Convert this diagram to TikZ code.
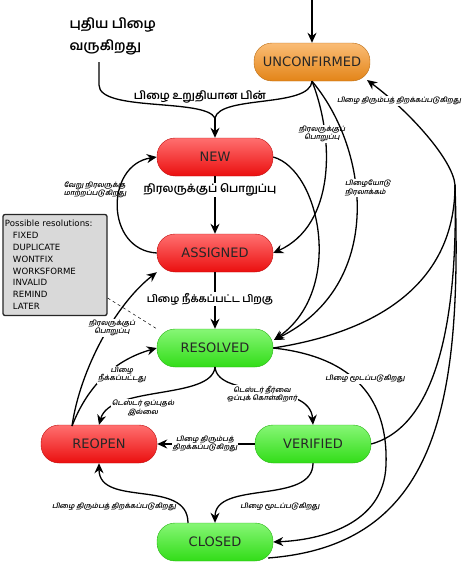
\documentclass[tikz,border=0pt]{standalone}
\usepackage{fontspec}
\setmainfont{DejaVu Sans}
\newfontfamily\tamil[Script=Tamil]{Hind Madurai}
\newfontfamily\tamilsl[Script=Tamil,FakeSlant=0.2]{Hind Madurai}
\usetikzlibrary{arrows.meta}
\definecolor{orng}{HTML}{F7901A}
\definecolor{rd}{HTML}{FF1010}
\definecolor{grn}{HTML}{36F01A}
\begin{document}
\begin{tikzpicture}[x=1pt,y=-1pt,
  state/.style={rounded corners=18pt, minimum width=116pt, minimum height=38pt,
    draw=#1!75!black, line width=0.4pt, top color=#1!60!white, middle color=#1,
    bottom color=#1!92!black, font=\fontsize{13}{15}\selectfont, text=black!85, inner sep=0pt},
  conn/.style={line width=1.3pt, draw=black},
  arr/.style={conn, -{Stealth[length=10pt,width=9pt]}},
  biglab/.style={font=\tamil\bfseries\fontsize{11}{13}\selectfont, inner sep=1pt},
  smalllab/.style={font=\tamilsl\bfseries\fontsize{6.9}{8.5}\selectfont, align=center, inner sep=1pt},
  resbox/.style={draw=black!85, line width=1.3pt, fill=black!15, rounded corners=2pt,
    align=left, font=\fontsize{8.6}{11.8}\selectfont, inner sep=2pt, text width=100pt, minimum height=101pt}
]
\useasboundingbox (0,0) rectangle (465,562);

% states
\node[state=orng] (unc) at (312,62) {UNCONFIRMED};
\node[state=rd] (new) at (215,157) {NEW};
\node[state=rd] (asg) at (215,253) {ASSIGNED};
\node[state=grn] (res) at (215,348) {RESOLVED};
\node[state=rd] (reo) at (99,444) {REOPEN};
\node[state=grn] (ver) at (313,444) {VERIFIED};
\node[state=grn] (clo) at (215,542) {CLOSED};

% resolutions box
\node[resbox] (rbox) at (55,265) {Possible resolutions:\\
\hspace*{8pt}FIXED\\ \hspace*{8pt}DUPLICATE\\ \hspace*{8pt}WONTFIX\\ \hspace*{8pt}WORKSFORME\\
\hspace*{8pt}INVALID\\ \hspace*{8pt}REMIND\\ \hspace*{8pt}LATER};
\draw[dashed, line width=0.5pt] (rbox.east |- 0,298) -- (res.north west);

% coordinates
\coordinate (top) at (312,0);
\coordinate (nbs) at (99,62);
\coordinate (nm) at (215,118);
\coordinate (rin) at (274,340);
\coordinate (ro) at (72,426);
\coordinate (rb) at (215,367);
\coordinate (cl) at (188,523);
\coordinate (cbr) at (268,558);
\coordinate (mg) at (455,185);
\coordinate (uin) at (367,80);

% top
\node[font=\tamil\bfseries\fontsize{13.5}{22}\selectfont, align=left, anchor=west] (nb) at (66,36) {புதிய பிழை\\வருகிறது};
\draw[arr] (top) -- (unc.north);

\draw[conn] (nbs) -- (99,85) .. controls (99,112) and (205,98) .. (nm);
\draw[conn] (unc.south) .. controls (310,108) and (220,95) .. (nm);
\draw[arr] (nm) -- (new.north);
\node[biglab] (l1) at (200,97) {பிழை உறுதியான பின்};

% NEW -> ASSIGNED
\draw[arr] (new.south) -- (asg.north);
\node[biglab, fill=white] (l2) at (210,190) {நிரலருக்குப் பொறுப்பு};

% ASSIGNED -> NEW
\draw[arr] (asg.west) .. controls (105,250) and (105,165) .. (new.west);
\node[smalllab, align=left] (l3) at (95,190) {வேறு நிரலருக்கு\\மாற்றப்படுகிறது};

% ASSIGNED -> RESOLVED
\draw[arr] (asg.south) -- (res.north);
\node[biglab, fill=white, font=\tamil\bfseries\fontsize{10}{12}\selectfont] (l4) at (210,299) {பிழை நீக்கப்பட்ட பிறகு};

% UNCONFIRMED -> ASSIGNED / RESOLVED, NEW -> RESOLVED
\draw[arr] (unc.south) .. controls (335,140) and (335,225) .. (asg.east);
\node[smalllab, fill=white] (l5) at (322,134) {நிரலருக்குப்\\பொறுப்பு};
\draw[arr] (unc.south) .. controls (370,150) and (385,285) .. (rin);
\node[smalllab, fill=white, align=left] (l6) at (368,188) {பிழையோடு\\நிரலாக்கம்};
\draw[arr] (new.east) .. controls (320,170) and (345,290) .. (rin);

% REOPEN -> ASSIGNED / RESOLVED
\draw[arr] (ro) .. controls (80,370) and (115,305) .. (asg.south west);
\node[smalllab, fill=white] (l7) at (112,328) {நிரலருக்குப்\\பொறுப்பு};
\draw[arr] (ro) .. controls (88,385) and (115,360) .. (res.west);
\node[smalllab, fill=white] (l8) at (122,375) {பிழை\\நீக்கப்பட்டது};

% RESOLVED -> REOPEN / VERIFIED
\draw[arr] (rb) .. controls (212,400) and (110,385) .. (reo.north);
\node[smalllab, fill=white] (l9) at (143,408) {டெஸ்டர் ஒப்புதல்\\இல்லை};
\draw[arr] (rb) .. controls (218,400) and (310,380) .. (ver.north);
\node[smalllab, fill=white] (l10) at (262,394) {டெஸ்டர் தீர்வை\\ஒப்புக் கொள்கிறார்};

% VERIFIED -> REOPEN
\draw[arr] (ver.west) -- (reo.east);
\node[smalllab, fill=white] (l11) at (205,444) {பிழை திரும்பத்\\திறக்கப்படுகிறது};

% VERIFIED -> CLOSED
\draw[arr] (ver.south) .. controls (313,505) and (215,480) .. (clo.north);
\node[smalllab] (l12) at (280,507) {பிழை மூடப்படுகிறது};

% CLOSED -> REOPEN
\draw[arr] (cl) .. controls (188,478) and (99,508) .. (reo.south);
\node[smalllab] (l13) at (114,507) {பிழை திரும்பத் திறக்கப்படுகிறது};

% RESOLVED -> CLOSED
\draw[arr] (res.east) .. controls (365,358) and (388,410) .. (386,465)
   .. controls (384,525) and (320,540) .. (clo.east);
\node[smalllab, fill=white] (l14) at (365,379) {பிழை மூடப்படுகிறது};

% back to UNCONFIRMED
\draw[conn] (res.east) .. controls (390,330) and (455,275) .. (mg);
\draw[conn] (ver.east) .. controls (440,425) and (458,310) .. (mg);
\draw[conn] (cbr) .. controls (440,545) and (462,400) .. (mg);
\draw[arr] (mg) .. controls (453,160) and (410,112) .. (uin);
\node[smalllab, fill=white] (l15) at (399,101) {பிழை திரும்பத் திறக்கப்படுகிறது};
\end{tikzpicture}
\end{document}
